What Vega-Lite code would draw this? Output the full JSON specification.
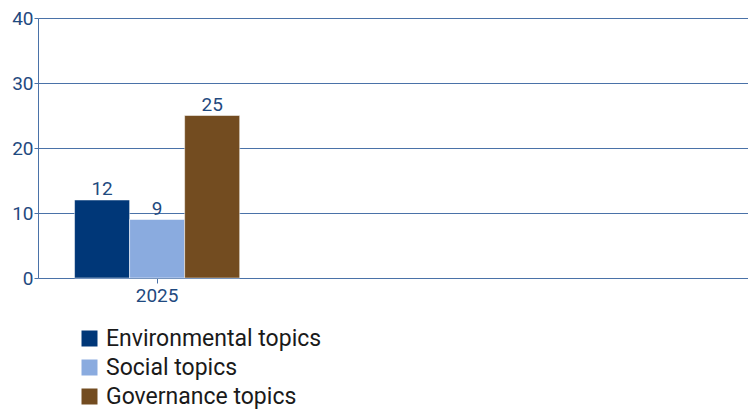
{
  "$schema": "https://vega.github.io/schema/vega-lite/v6.json",
  "width": 710,
  "height": 260,
  "autosize": {"type": "none"},
  "padding": {"left": 38, "top": 18, "right": 0, "bottom": 132},
  "background": "white",
  "config": {
    "view": {"stroke": null},
    "font": "Roboto"
  },
  "data": {
    "values": [
      {"year": "2025", "topic": "Environmental topics", "value": 12},
      {"year": "2025", "topic": "Social topics", "value": 9},
      {"year": "2025", "topic": "Governance topics", "value": 25}
    ]
  },
  "encoding": {
    "x": {
      "field": "year",
      "type": "nominal",
      "scale": {"domain": ["2025", "2026", "2027"], "paddingInner": 0.3, "paddingOuter": 0.155},
      "axis": {
        "title": null,
        "values": ["2025"],
        "labelAngle": 0,
        "domain": false,
        "tickColor": "#4a72a8",
        "tickSize": 5,
        "labelColor": "#1f4a80",
        "labelFontSize": 19,
        "labelPadding": 3
      }
    },
    "xOffset": {
      "field": "topic",
      "type": "nominal",
      "sort": ["Environmental topics", "Social topics", "Governance topics"],
      "scale": {"paddingInner": 0}
    },
    "y": {
      "field": "value",
      "type": "quantitative",
      "scale": {"domain": [0, 40]},
      "axis": {
        "title": null,
        "values": [0, 10, 20, 30, 40],
        "grid": true,
        "gridColor": "#4a72a8",
        "gridOpacity": 1,
        "gridWidth": 1,
        "domainColor": "#4a72a8",
        "tickColor": "#4a72a8",
        "tickSize": 4,
        "labelColor": "#1f4a80",
        "labelFontSize": 19,
        "labelPadding": 1
      }
    }
  },
  "layer": [
    {
      "mark": {"type": "bar", "stroke": "white", "strokeWidth": 0.5},
      "encoding": {
        "color": {
          "field": "topic",
          "type": "nominal",
          "sort": ["Environmental topics", "Social topics", "Governance topics"],
          "scale": {
            "domain": ["Environmental topics", "Social topics", "Governance topics"],
            "range": ["#003778", "#8aabdf", "#734c20"]
          },
          "legend": {
            "title": null,
            "orient": "none",
            "legendX": 40,
            "legendY": 309,
            "direction": "vertical",
            "symbolType": "square",
            "symbolSize": 256,
            "symbolStrokeWidth": 0,
            "labelFontSize": 23,
            "labelColor": "#1a1a1a",
            "labelLimit": 0,
            "labelOffset": 5,
            "rowPadding": 5
          }
        }
      }
    },
    {
      "mark": {"type": "text", "dy": -11, "fontSize": 19, "color": "#1f4a80"},
      "encoding": {
        "text": {"field": "value", "type": "quantitative"}
      }
    }
  ]
}
